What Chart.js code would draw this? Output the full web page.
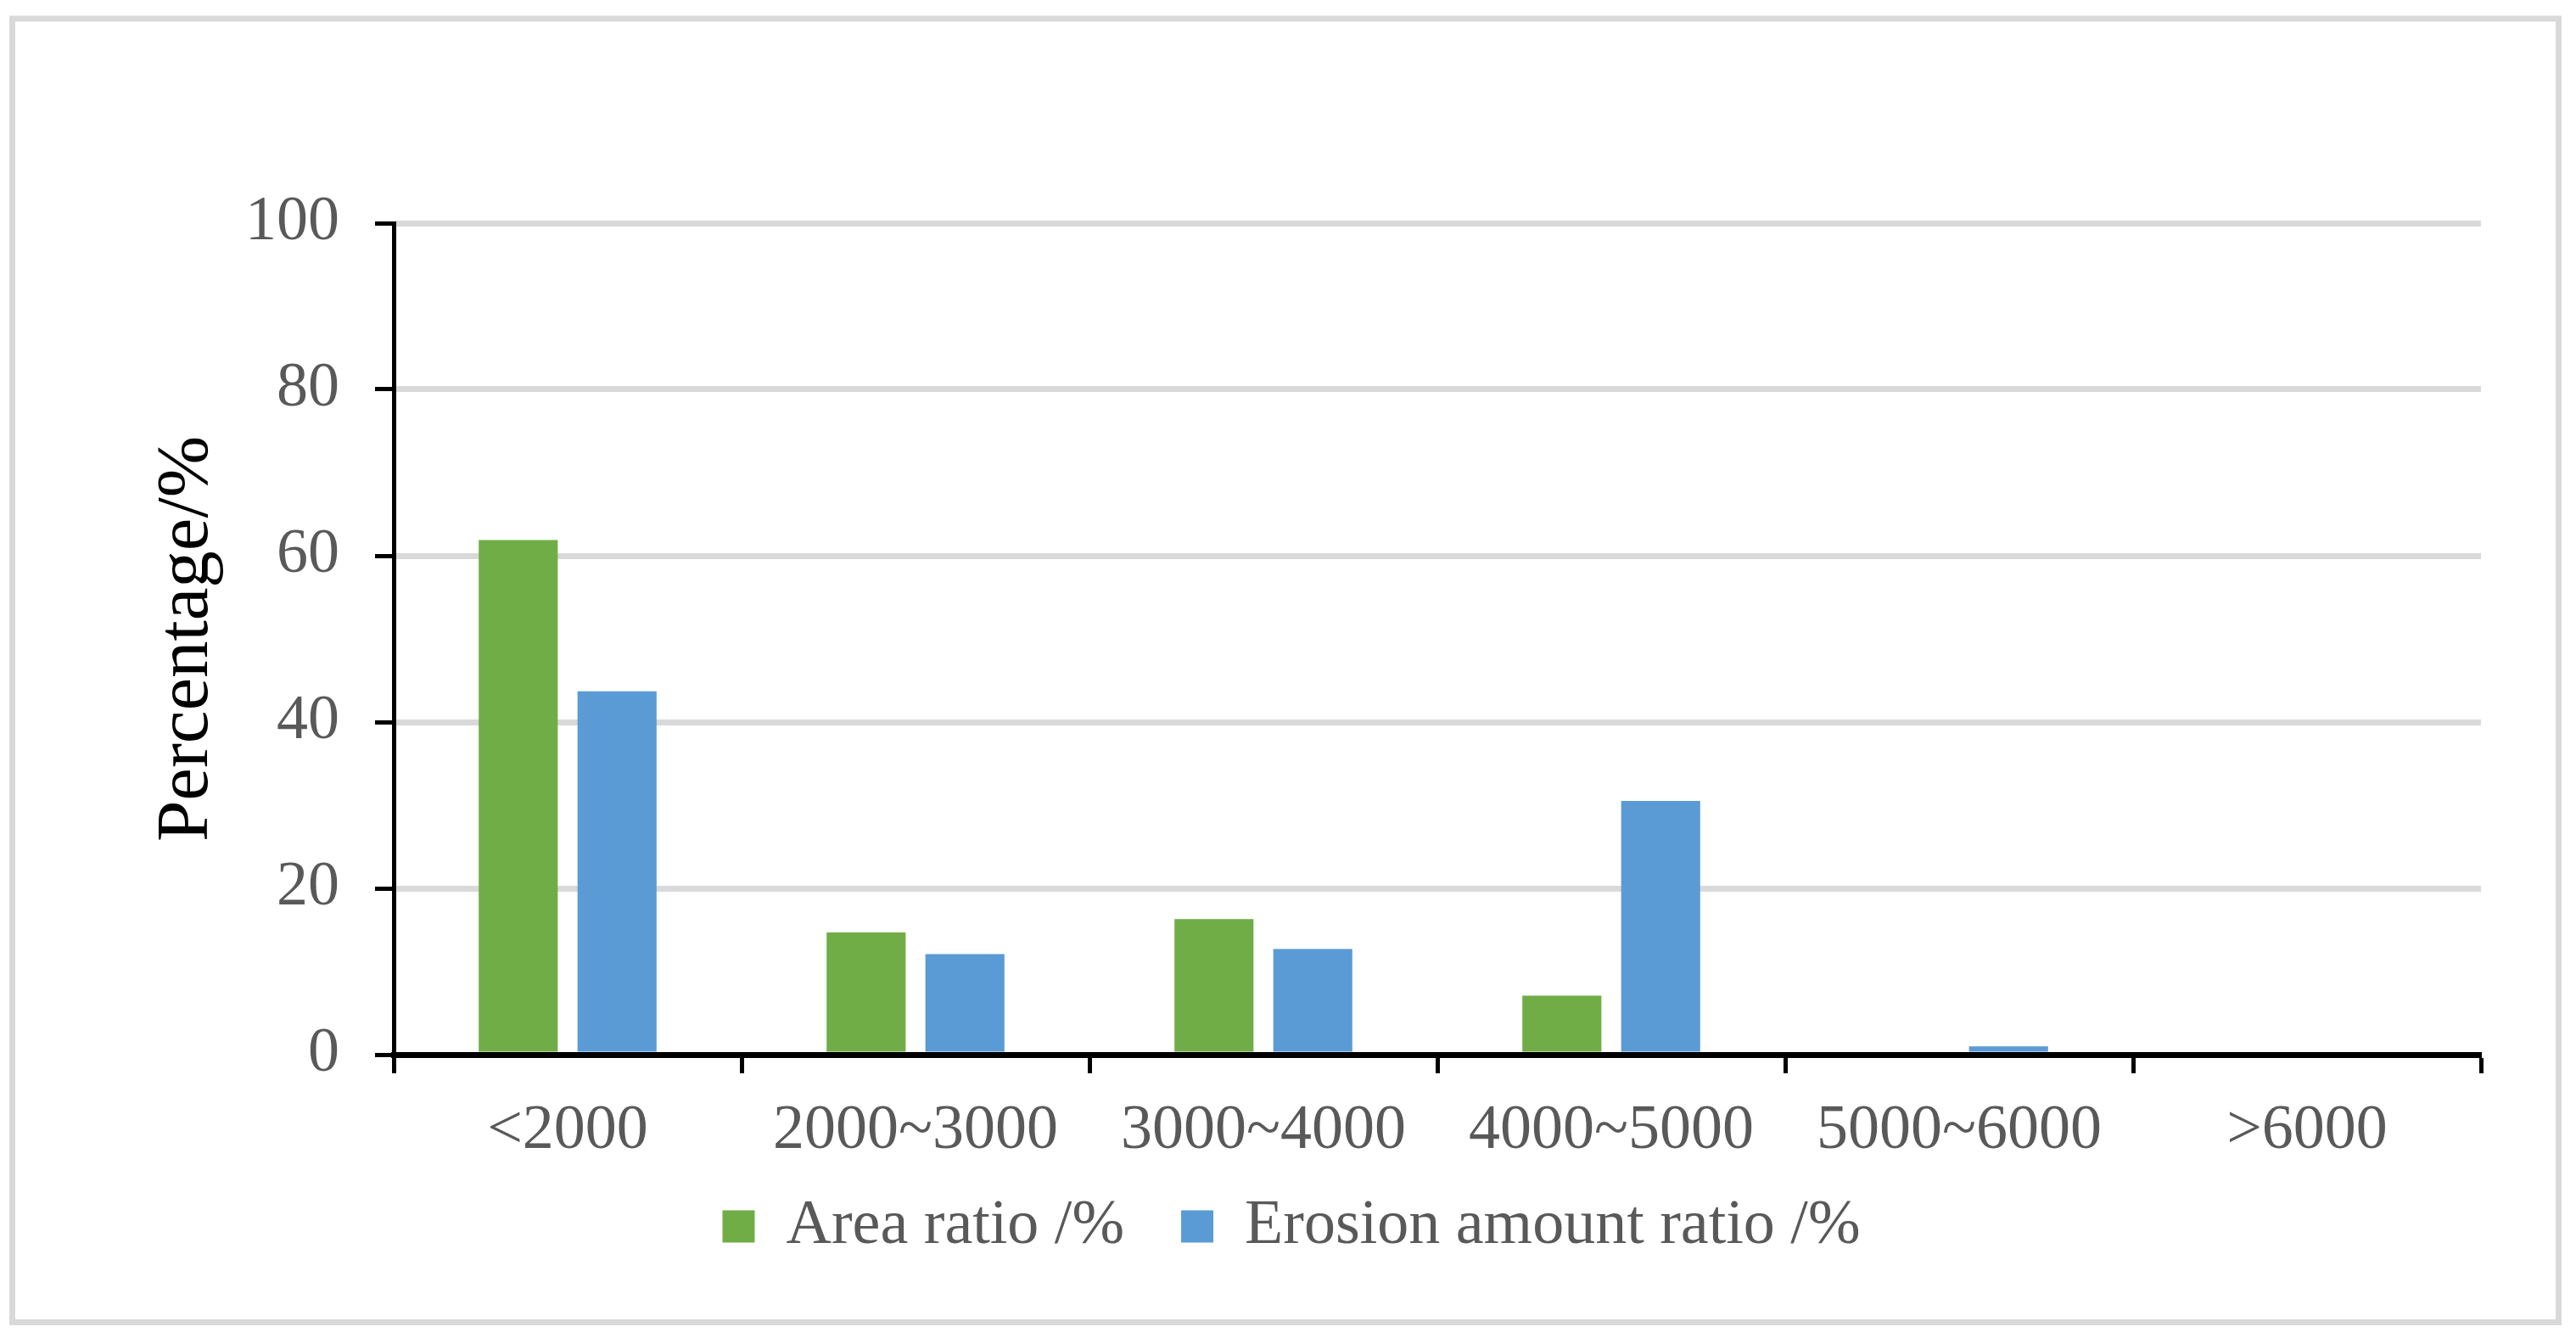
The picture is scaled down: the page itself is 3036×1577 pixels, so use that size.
<!DOCTYPE html>
<html lang="en">
<head>
    <meta charset="UTF-8">
    <title>Percentage by class</title>
    <style>
        html, body {
            margin: 0;
            padding: 0;
            background: #fff;
            overflow: hidden;
        }
        #wrap {
            position: relative;
            width: 3036px;
            height: 1577px;
        }
    </style>
    <script src="https://cdn.jsdelivr.net/npm/chart.js"></script>
</head>
<body>
    <div id="wrap">
        <canvas id="grafico"></canvas>
    </div>

    <script>
        // datos
        const categorias = ['<2000', '2000~3000', '3000~4000', '4000~5000', '5000~6000', '>6000'];
        const areaRatio = [61.9, 14.7, 16.3, 7.1, 0, 0];
        const erosionRatio = [43.7, 12.1, 12.7, 30.5, 1.0, 0];
        const serieNombres = ['Area ratio /%', 'Erosion amount ratio /%'];
        const yTicks = [0, 20, 40, 60, 80, 100];

        const fuente = "'Liberation Serif', 'Times New Roman', serif";
        const gris = '#595959';

        // marco gris alrededor de todo
        const marco = {
            id: 'marco',
            beforeDraw(chart) {
                const ctx = chart.ctx;
                ctx.save();
                ctx.fillStyle = '#fff';
                ctx.fillRect(0, 0, chart.width, chart.height);
                ctx.strokeStyle = '#d9d9d9';
                ctx.lineWidth = 7;
                ctx.strokeRect(14.5, 22, 3001, 1536.5);
                ctx.restore();
            }
        };

        // la leyenda queda mas pegada a las etiquetas del eje x
        const subirLeyenda = {
            id: 'subirLeyenda',
            afterLayout(chart) {
                const leg = chart.legend;
                if (!leg) return;
                const dy = 1341.5 - leg.top;
                leg.top += dy;
                leg.bottom += dy;
            }
        };

        const ctx = document.getElementById('grafico').getContext('2d');
        new Chart(ctx, {
            type: 'bar',
            data: {
                labels: categorias,
                datasets: [
                    {
                        label: serieNombres[0],
                        data: areaRatio,
                        backgroundColor: '#70ad47'
                    },
                    {
                        label: serieNombres[1],
                        data: erosionRatio,
                        backgroundColor: '#5b9bd5'
                    }
                ]
            },
            options: {
                responsive: true,
                maintainAspectRatio: false,
                animation: false,
                devicePixelRatio: 1,
                categoryPercentage: 0.568,
                barPercentage: 0.8,
                layout: {
                    padding: { left: 120, right: 112, top: 263, bottom: 43 }
                },
                plugins: {
                    tooltip: { enabled: false },
                    legend: {
                        position: 'bottom',
                        labels: {
                            boxWidth: 38,
                            boxHeight: 38,
                            padding: 67,
                            color: gris,
                            font: { family: fuente, size: 74 }
                        }
                    }
                },
                scales: {
                    x: {
                        afterFit(scale) { scale.height = 140; },
                        grid: {
                            drawOnChartArea: false,
                            drawTicks: true,
                            tickLength: 22,
                            tickColor: '#000',
                            tickWidth: 5
                        },
                        border: { display: true, color: '#000', width: 7, z: 1 },
                        ticks: {
                            color: gris,
                            padding: 24,
                            maxRotation: 0,
                            autoSkip: false,
                            font: { family: fuente, size: 74 }
                        }
                    },
                    y: {
                        min: 0,
                        max: 100,
                        afterFit(scale) { scale.width = 344; },
                        afterBuildTicks(scale) {
                            scale.ticks = yTicks.map(v => ({ value: v }));
                        },
                        grid: {
                            color: '#d9d9d9',
                            lineWidth: 7,
                            tickLength: 22,
                            tickColor: '#000',
                            tickWidth: 5
                        },
                        border: { display: true, color: '#000', width: 5, z: 1 },
                        ticks: {
                            color: gris,
                            padding: 42,
                            font: { family: fuente, size: 74 }
                        },
                        title: {
                            display: true,
                            text: 'Percentage/%',
                            color: '#000',
                            padding: { top: 49, bottom: 0 },
                            font: { family: fuente, size: 87 }
                        }
                    }
                }
            },
            plugins: [marco, subirLeyenda]
        });
    </script>
</body>
</html>
